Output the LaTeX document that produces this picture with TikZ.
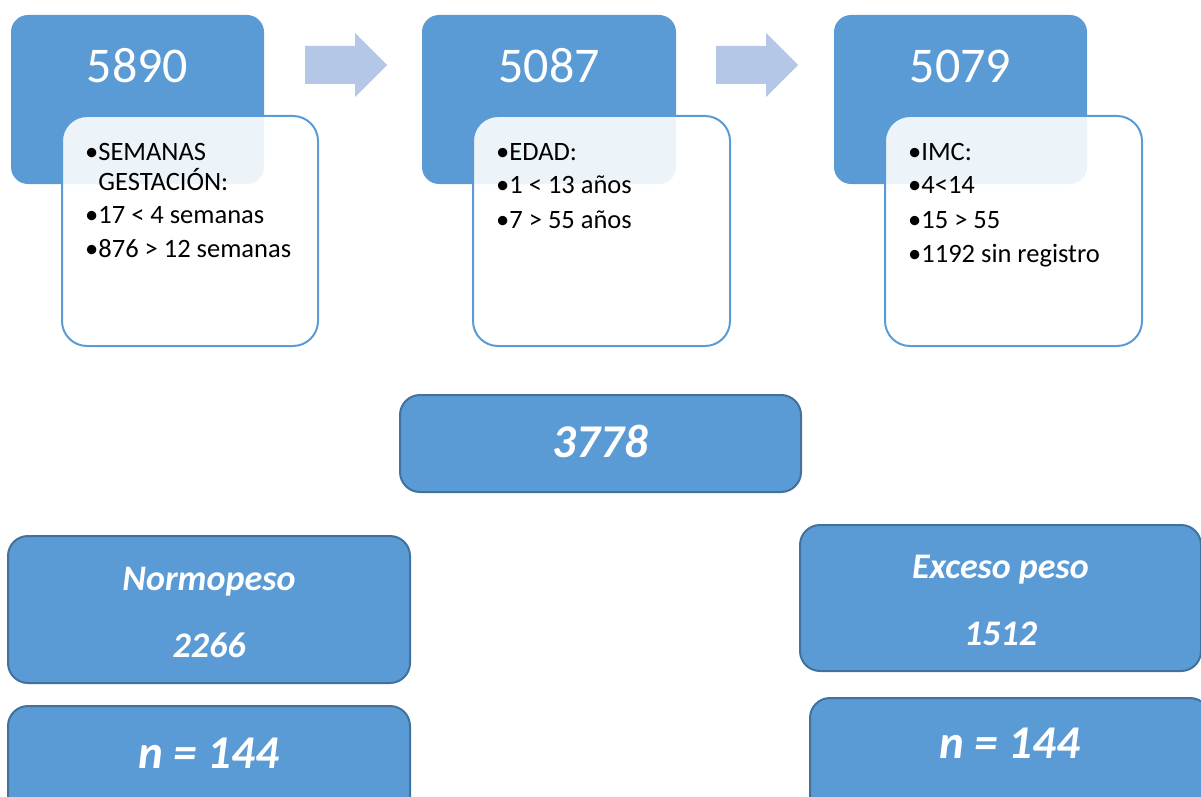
\documentclass[tikz,border=0pt]{standalone}
\usepackage{fontspec}
\setmainfont{Carlito}
\definecolor{accent}{HTML}{5B9BD5}
\definecolor{edgec}{HTML}{41719C}
\definecolor{arrowc}{HTML}{B4C7E7}
\begin{document}
\begin{tikzpicture}[x=1pt,y=-1pt,
  darkbox/.style={fill=accent,draw=none,rounded corners=17pt,inner sep=0pt},
  listbox/.style={fill=white,fill opacity=0.89,draw=accent,line width=2pt,rounded corners=25pt,inner sep=0pt},
  resbox/.style={fill=accent,draw=edgec,line width=2pt,rounded corners=20pt,inner sep=0pt},
  bignum/.style={text=white,font=\fontsize{50}{60}\selectfont,anchor=base,inner sep=0pt},
  item/.style={text=black,font=\fontsize{26.5}{32}\selectfont,anchor=base west,inner sep=0pt},
  restext/.style={text=white,font=\fontsize{36}{44}\selectfont\bfseries\itshape,anchor=base,inner sep=0pt},
  resbig/.style={text=white,font=\fontsize{47}{56}\selectfont\bfseries\itshape,anchor=base,inner sep=0pt},
  flowarrow/.style={fill=arrowc,draw=none}]
\useasboundingbox (0,0) rectangle (1201,797);
\clip (0,0) rectangle (1201,797);

% step 1
\node[darkbox,minimum width=253pt,minimum height=169pt] (d1) at (137.5,99.5) {};
\node[listbox,minimum width=256pt,minimum height=230pt] (w1) at (190,231) {};
\node[bignum] (n1) at (137.5,83) {5890};
\node[item] (t1a) at (85,160) {•SEMANAS};
\node[item] (t1b) at (85,190) {\hphantom{•}GESTACIÓN:};
\node[item] (t1c) at (85,223) {•17 < 4 semanas};
\node[item] (t1d) at (85,257) {•876 > 12 semanas};

% step 2
\node[darkbox,minimum width=254pt,minimum height=169pt] (d2) at (549,99.5) {};
\node[listbox,minimum width=257pt,minimum height=230pt] (w2) at (601.5,231) {};
\node[bignum] (n2) at (549,83) {5087};
\node[item] (t2a) at (496,160) {•EDAD:};
\node[item] (t2b) at (496,193) {•1 < 13 años};
\node[item] (t2c) at (496,228) {•7 > 55 años};

% step 3
\node[darkbox,minimum width=253pt,minimum height=169pt] (d3) at (960.5,99.5) {};
\node[listbox,minimum width=257pt,minimum height=230pt] (w3) at (1013.5,231) {};
\node[bignum] (n3) at (960.5,83) {5079};
\node[item] (t3a) at (908,160) {•IMC:};
\node[item] (t3b) at (908,193) {•4<14};
\node[item] (t3c) at (908,228) {•15 > 55};
\node[item] (t3d) at (908,262) {•1192 sin registro};

% arrows
\fill[flowarrow] (305,46) -- (355,46) -- (355,33) -- (387,65) -- (355,97) -- (355,84) -- (305,84) -- cycle;
\fill[flowarrow] (716,46) -- (766,46) -- (766,33) -- (798,65) -- (766,97) -- (766,84) -- (716,84) -- cycle;

% result boxes
\node[resbox,minimum width=401pt,minimum height=97pt] (total) at (600.5,443.5) {};
\node[resbig] (totalt) at (600.5,457) {3778};

\node[resbox,minimum width=402pt,minimum height=147pt] (norm) at (209,609.5) {};
\node[restext] (normt) at (209,590) {Normopeso};
\node[restext] (normn) at (209,657) {2266};

\node[resbox,minimum width=402pt,minimum height=120pt] (normc) at (209,766) {};
\node[resbig] (normct) at (209,768) {n = 144};

\node[resbox,minimum width=401pt,minimum height=146pt] (exc) at (1000.5,598) {};
\node[restext] (exct) at (1000.5,578) {Exceso peso};
\node[restext] (excn) at (1000.5,645) {1512};

\node[resbox,minimum width=400pt,minimum height=120pt] (excc) at (1010,758) {};
\node[resbig] (excct) at (1010,758) {n = 144};
\end{tikzpicture}
\end{document}
